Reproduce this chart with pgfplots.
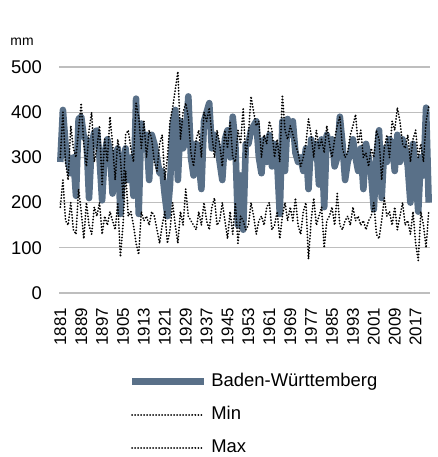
\documentclass[border=0pt]{standalone}
\usepackage{pgfplots}
\usepackage{pgfplotstable}
\pgfplotsset{compat=1.18}
\usepackage{fontspec}
\setmainfont{Liberation Sans}
\definecolor{bwblue}{RGB}{89,112,136}
\definecolor{gridgray}{RGB}{190,190,190}

\pgfplotstableread{
year bw min max
1881 290 190 300
1882 405 250 400
1883 330 160 290
1884 290 150 250
1885 265 200 370
1886 300 140 320
1887 215 130 300
1888 385 230 360
1889 390 180 420
1890 345 120 330
1891 340 200 280
1892 210 150 360
1893 330 130 400
1894 355 190 290
1895 360 170 320
1896 300 200 370
1897 205 130 240
1898 310 170 340
1899 340 150 290
1900 315 180 390
1901 220 160 330
1902 300 140 250
1903 320 200 340
1904 175 80 300
1905 290 150 210
1906 320 270 350
1907 250 170 360
1908 300 180 320
1909 215 150 290
1910 430 110 420
1911 175 85 390
1912 375 180 320
1913 330 160 380
1914 350 170 300
1915 250 150 360
1916 350 180 340
1917 330 170 290
1918 300 140 270
1919 265 110 330
1920 270 150 350
1921 215 180 250
1922 170 110 300
1923 240 140 380
1924 370 200 410
1925 405 150 450
1926 250 110 490
1927 380 180 340
1928 320 150 400
1929 340 230 420
1930 435 170 390
1931 300 160 310
1932 260 150 280
1933 330 140 340
1934 290 180 360
1935 230 150 300
1936 380 200 400
1937 400 160 380
1938 420 140 410
1939 320 190 350
1940 350 210 300
1941 330 150 360
1942 290 160 330
1943 250 200 280
1944 340 160 360
1945 360 120 320
1946 300 180 380
1947 390 130 300
1948 330 200 290
1949 150 110 360
1950 260 170 330
1951 140 160 410
1952 330 140 300
1953 330 150 350
1954 360 200 435
1955 370 170 400
1956 380 130 370
1957 300 160 380
1958 265 170 300
1959 340 150 350
1960 290 190 330
1961 350 200 380
1962 280 140 360
1963 330 150 300
1964 290 180 340
1965 175 120 290
1966 380 170 438
1967 270 200 360
1968 385 160 340
1969 350 190 370
1970 380 160 350
1971 310 210 330
1972 290 150 310
1973 300 130 280
1974 270 180 300
1975 320 200 330
1976 230 75 385
1977 340 160 350
1978 300 210 300
1979 330 150 360
1980 240 170 320
1981 340 190 340
1982 190 100 310
1983 350 160 370
1984 320 170 330
1985 340 190 300
1986 280 150 340
1987 300 220 370
1988 390 150 390
1989 330 140 320
1990 250 160 300
1991 290 170 310
1992 310 150 350
1993 340 190 370
1994 300 160 395
1995 270 170 330
1996 320 150 360
1997 230 160 300
1998 330 140 310
1999 300 160 280
2000 260 170 320
2001 185 200 300
2002 300 130 360
2003 360 120 340
2004 210 160 250
2005 320 210 320
2006 290 170 350
2007 340 180 300
2008 330 150 380
2009 270 190 360
2010 350 140 410
2011 290 170 380
2012 340 200 330
2013 320 150 320
2014 280 160 350
2015 200 130 290
2016 330 180 340
2017 260 110 360
2018 180 72 300
2019 300 180 330
2020 260 150 290
2021 410 100 380
2022 200 180 412
}\datatable

\begin{document}
\begin{tikzpicture}
\useasboundingbox (0,0) rectangle (219bp,228.5bp);
\node[anchor=west, font=\fontsize{7}{8}\selectfont, inner sep=0pt] at (5bp,207.5bp) {mm};
\begin{axis}[
  at={(29.5bp,82bp)}, anchor=south west,
  scale only axis, width=185.5bp, height=113bp,
  xmin=1880.5, xmax=2022.5, ymin=0, ymax=500,
  xtick={1881,1889,...,2017}, ytick={0,100,...,500},
  /pgf/number format/assume math mode=true,
  xticklabel={\pgfmathprintnumber[1000 sep={}]{\tick}},
  x tick label style={rotate=90, anchor=east, font=\fontsize{8.5}{9}\selectfont},
  y tick label style={font=\fontsize{9.25}{10}\selectfont},
  xticklabel shift=4bp, yticklabel shift=5bp,
  axis line style={draw=none},
  axis x line*=bottom, axis y line*=left,
  major tick length=0pt,
  ymajorgrids, grid style={gridgray, line width=0.6pt},
  clip=false,
  legend cell align=left,
  legend style={draw=none, fill=none, at={(0.187,-0.335)}, anchor=north west,
    font=\fontsize{9.25}{10}\selectfont, row sep=4.5bp, inner sep=0pt},
  legend image code/.code={\draw[#1] (0bp,0bp) -- (36bp,0bp);},
]
\addplot[bwblue, line width=3.3pt, line join=round] table[x=year,y=bw] {\datatable};
\addlegendentry{Baden-Württemberg}
\addplot[black, line width=1pt, line cap=round, dash pattern=on 0.01pt off 1.5pt] table[x=year,y=min] {\datatable};
\addlegendentry{Min}
\addplot[black, line width=1pt, line cap=round, dash pattern=on 0.01pt off 1.5pt] table[x=year,y=max] {\datatable};
\addlegendentry{Max}
\end{axis}
\end{tikzpicture}
\end{document}
